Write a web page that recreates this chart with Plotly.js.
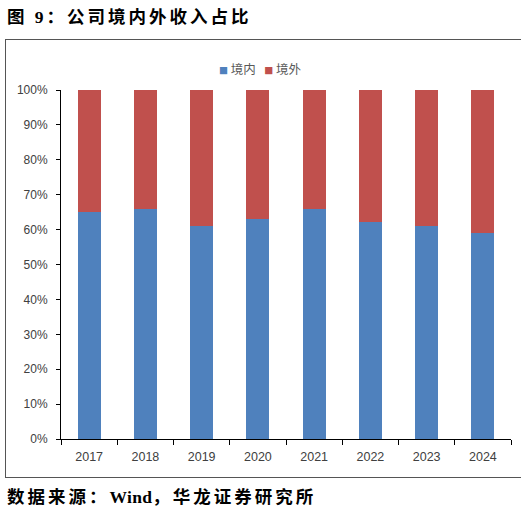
<!DOCTYPE html>
<html>
<head>
<meta charset="utf-8">
<script src="https://cdn.plot.ly/plotly-3.0.1.min.js"></script>
<style>
  body { margin: 0; background: #fff; }
  #frame { position: absolute; left: 5px; top: 39px; width: 530px; height: 437px;
           border-left: 1px solid #555; border-top: 1px solid #555; border-bottom: 1px solid #555; }
  #graph { position: absolute; left: 0; top: 0; width: 521px; height: 517px; }
  .head { position: absolute; left: 7px; font-family: 'Liberation Serif', 'Noto Sans CJK SC', serif;
          font-weight: bold; font-size: 17.5px; letter-spacing: 3px; color: #000; white-space: nowrap;
          line-height: 20px; }
  .head .latin { letter-spacing: 0.3px; }
  #title { top: 7px; }
  #source { top: 487px; }
</style>
</head>
<body>
<div id="frame"></div>
<div id="graph"></div>
<div class="head" id="title"></div>
<div class="head" id="source"></div>
<script>
const years = ['2017', '2018', '2019', '2020', '2021', '2022', '2023', '2024'];
const domestic = [65.1, 66.0, 61.0, 63.0, 65.8, 62.3, 61.0, 59.0];
const overseas = domestic.map(v => +(100 - v).toFixed(1));
const seriesNames = ['境内', '境外'];
const seriesColors = ['#4F81BD', '#C0504D'];
const titleText = '图 9：公司境内外收入占比';
const sourceText = '数据来源：<span class="latin">Wind</span>，华龙证券研究所';

document.getElementById('title').textContent = titleText;
document.getElementById('source').innerHTML = sourceText;

const tickFont = { family: 'Liberation Sans, Arial, sans-serif', size: 12.5, color: '#404040' };

const traces = [
  { x: years, y: domestic, type: 'bar', name: seriesNames[0], marker: { color: seriesColors[0] } },
  { x: years, y: overseas, type: 'bar', name: seriesNames[1], marker: { color: seriesColors[1] } }
];

// compact legend, as in the source chart
const legendText = seriesNames.map((n, i) =>
  '<span style="color:' + seriesColors[i] + ';font-size:9px">■</span> ' + n).join('&nbsp;&nbsp;&nbsp;');

const layout = {
  width: 521, height: 517,
  margin: { l: 61, r: 10, t: 90, b: 78, pad: 0 },
  barmode: 'stack',
  bargap: 0.59,
  paper_bgcolor: 'rgba(0,0,0,0)',
  plot_bgcolor: 'rgba(0,0,0,0)',
  showlegend: false,
  xaxis: {
    type: 'category', showline: true, linecolor: '#000', linewidth: 1,
    ticks: 'outside', tickson: 'boundaries', ticklen: 5, tickcolor: '#000',
    tickfont: tickFont, showgrid: false, fixedrange: true, ticklabelstandoff: 6
  },
  yaxis: {
    range: [0, 100], dtick: 10, ticksuffix: '%', showline: true, linecolor: '#000', linewidth: 1,
    ticks: 'outside', ticklen: 4, tickcolor: '#000',
    tickfont: { family: tickFont.family, size: 12, color: tickFont.color },
    showgrid: false, zeroline: false, ticklabelstandoff: 6
  },
  annotations: [
    { text: legendText, xref: 'paper', yref: 'paper', x: 0.444, y: 1.063,
      xanchor: 'center', yanchor: 'middle', showarrow: false,
      font: { family: 'Noto Sans CJK SC, sans-serif', size: 12.5, color: '#595959' } }
  ]
};

Plotly.newPlot('graph', traces, layout, { displayModeBar: false, staticPlot: true });
</script>
</body>
</html>
